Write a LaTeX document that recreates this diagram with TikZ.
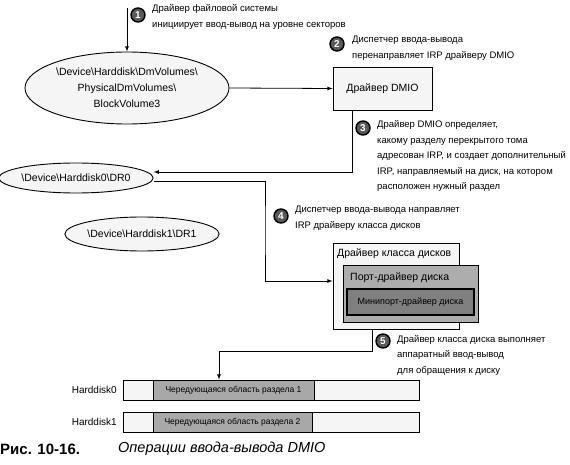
\documentclass[tikz,border=0pt]{standalone}
\usepackage{fontspec}
\setmainfont{Liberation Sans}
\usetikzlibrary{arrows,calc,positioning,shapes.geometric}
\definecolor{PaleClr}{gray}{0.96}
\definecolor{PortClr}{gray}{0.68}
\definecolor{MiniClr}{gray}{0.5}
\definecolor{PartClr}{gray}{0.66}
\definecolor{NumClr}{gray}{0.35}
\tikzset{
  vol/.style={ellipse,draw,line width=0.9pt,fill=PaleClr,inner sep=0pt,align=center,
    font=\fontsize{10.5}{16}\selectfont},
  drvbox/.style={rectangle,draw,line width=0.9pt,inner sep=0pt},
  flow/.style={line width=0.8pt,-latex},
  num/.style={circle,draw,line width=1.4pt,fill=NumClr,text=white,inner sep=0pt,
    minimum size=14pt,font=\bfseries\fontsize{10}{10}\selectfont},
  note/.style={anchor=west,align=left,inner sep=0pt,font=\fontsize{9.5}{15.5}\selectfont},
  cell/.style={rectangle,draw,line width=0.9pt,fill=PaleClr,minimum height=20pt,inner sep=0pt},
  part/.style={cell,fill=PartClr,font=\fontsize{8.5}{9}\selectfont}
}

\begin{document}
\begin{tikzpicture}[x=1pt,y=-1pt]
\useasboundingbox (0,0) rectangle (570,465);

\node[vol,minimum width=204pt,minimum height=72pt] (bv3) at (127,88)
  {\textbackslash Device\textbackslash Harddisk\textbackslash DmVolumes\textbackslash\\
   PhysicalDmVolumes\textbackslash\\BlockVolume3};
\node[drvbox,fill=PaleClr,minimum width=99pt,minimum height=43pt,font=\fontsize{10.5}{12}\selectfont]
  (dmio) at (382.5,88.5) {Драйвер DMIO};
\node[vol,minimum width=148pt,minimum height=30pt] (dr0) at (76,178)
  {\textbackslash Device\textbackslash Harddisk0\textbackslash DR0};
\node[vol,minimum width=144pt,minimum height=34pt] (dr1) at (142,234)
  {\textbackslash Device\textbackslash Harddisk1\textbackslash DR1};

\node[drvbox,fill=PaleClr,minimum width=126pt,minimum height=86pt] (cls) at (396,286) {};
\node[anchor=west,inner sep=0pt,font=\fontsize{10.5}{12}\selectfont] (clsT) at (337,254) {Драйвер класса дисков};
\node[drvbox,fill=PortClr,minimum width=135pt,minimum height=57pt] (port) at (410.5,293.5) {};
\node[anchor=west,inner sep=0pt,font=\fontsize{10.5}{12}\selectfont] (portT) at (350,278) {Порт-драйвер диска};
\node[drvbox,fill=MiniClr,line width=1.6pt,minimum width=127pt,minimum height=26pt,
  font=\fontsize{9}{10}\selectfont] (mini) at (410.5,302) {Минипорт-драйвер диска};

\node[anchor=east,inner sep=0pt,font=\fontsize{10}{12}\selectfont] (lb0) at (117,390) {Harddisk0};
\node[anchor=east,inner sep=0pt,font=\fontsize{10}{12}\selectfont] (lb1) at (117,422) {Harddisk1};
\node[cell,minimum width=296pt] (hd0) at (271,390) {};
\node[cell,minimum width=296pt] (hd1) at (271,422) {};
\node[part,minimum width=161pt] (pt0) at (233.5,390) {Чередующаяся область раздела 1};
\node[part,minimum width=159pt] (pt1) at (232.5,422) {Чередующаяся область раздела 2};

\coordinate (s1) at (127,8);
\coordinate (t4) at (265,230);
\draw[flow] (s1) -- (bv3.north);
\draw[flow] (bv3.east) -- (dmio.west);
\draw[flow] ([xshift=-30.5pt]dmio.south) |- ([yshift=6pt]dr0.east);
\draw[flow] ([yshift=-3pt]dr0.east) -| (t4) |- ([yshift=5pt]cls.west);
\draw[flow] ([xshift=-24pt]cls.south) -- ++(0,22) -| ([xshift=-52pt]hd0.north);

\node[num] (c1) at (138,15) {1};
\node[num] (c2) at (337,44) {2};
\node[num] (c3) at (363,128) {3};
\node[num] (c4) at (281,216) {4};
\node[num] (c5) at (383,341) {5};

\node[note] (n1) at (152,17) {Драйвер файловой системы\\инициирует ввод-вывод на уровне секторов};
\node[note] (n2) at (352,48) {Диспетчер ввода-вывода\\перенаправляет IRP драйверу DMIO};
\node[note] (n3) at (377,156) {Драйвер DMIO определяет,\\какому разделу перекрытого тома\\адресован IRP, и создает дополнительный\\IRP, направляемый на диск, на котором\\расположен нужный раздел};
\node[note] (n4) at (295,218) {Диспетчер ввода-вывода направляет\\IRP драйверу класса дисков};
\node[note] (n5) at (397,355) {Драйвер класса диска выполняет\\аппаратный ввод-вывод\\для обращения к диску};

\node[anchor=west,inner sep=0pt,font=\bfseries\fontsize{15}{16}\selectfont] (cap) at (0,449) {Рис. 10-16.};
\node[anchor=west,inner sep=0pt,font=\itshape\fontsize{14.5}{16}\selectfont] (capT) at (118,449) {Операции ввода-вывода DMIO};
\end{tikzpicture}
\end{document}
